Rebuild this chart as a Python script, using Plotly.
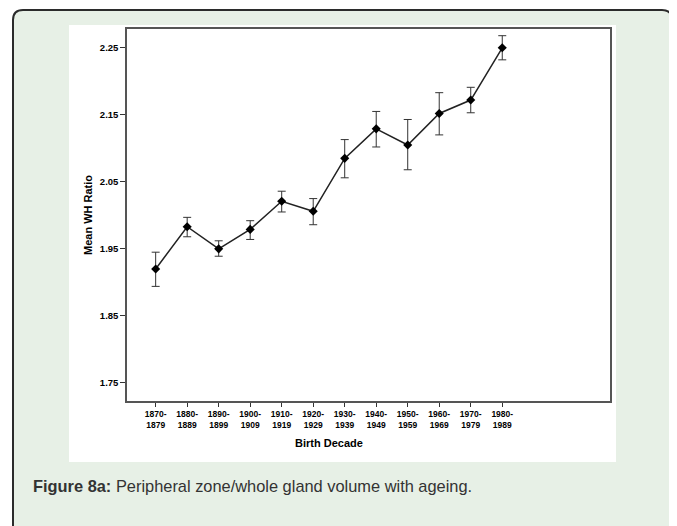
import plotly.graph_objects as go

decades = ["1870-<br>1879", "1880-<br>1889", "1890-<br>1899", "1900-<br>1909",
           "1910-<br>1919", "1920-<br>1929", "1930-<br>1939", "1940-<br>1949",
           "1950-<br>1959", "1960-<br>1969", "1970-<br>1979", "1980-<br>1989"]
mean_wh = [1.920, 1.983, 1.950, 1.979, 2.021, 2.006, 2.085, 2.129, 2.105, 2.152, 2.172, 2.250]
err_upper = [1.945, 1.997, 1.962, 1.992, 2.036, 2.025, 2.113, 2.155, 2.143, 2.183, 2.191, 2.268]
err_lower = [1.894, 1.968, 1.939, 1.964, 2.005, 1.986, 2.056, 2.102, 2.068, 2.120, 2.153, 2.232]
y_ticks = [1.75, 1.85, 1.95, 2.05, 2.15, 2.25]

plus = [u - m for u, m in zip(err_upper, mean_wh)]
minus = [m - l for m, l in zip(mean_wh, err_lower)]

W, H = 677, 526
OFF = 8  # page body margin, positions below are in window pixels
L, R, T, B = 127, 610, 29, 401


def px(x):
    return (x - L) / (R - L)


def py(y):
    return (B - y) / (B - T)


font = "Liberation Sans, Arial, sans-serif"

fig = go.Figure(go.Scatter(
    x=decades, y=mean_wh, mode="lines+markers",
    line=dict(color="#222222", width=1.5),
    marker=dict(symbol="diamond", size=7, color="black"),
    error_y=dict(type="data", symmetric=False, array=plus, arrayminus=minus,
                 color="#333333", thickness=1, width=4),
))

# card background with rounded top corners, then the white figure panel
r = 10
card = (f"M {px(13)},{py(560)} L {px(13)},{py(10 + r)} "
        f"Q {px(13)},{py(10)} {px(13 + r)},{py(10)} "
        f"L {px(672 - r)},{py(10)} Q {px(672)},{py(10)} {px(672)},{py(10 + r)} "
        f"L {px(672)},{py(560)} Z")
fig.add_shape(type="path", path=card, xref="paper", yref="paper", layer="below",
              fillcolor="#e7f0e6", line=dict(color="#2b2b2b", width=2))
fig.add_shape(type="rect", xref="paper", yref="paper", layer="below",
              x0=px(69), x1=px(616), y0=py(462), y1=py(25),
              fillcolor="white", line=dict(width=0))

fig.add_annotation(x=5.5, xref="x", y=py(443), yref="paper", yanchor="middle",
                   text="<b>Birth Decade</b>", showarrow=False,
                   font=dict(family=font, size=11, color="black"))
fig.add_annotation(x=px(88), xref="paper", xanchor="center", y=0.5, yref="paper",
                   yanchor="middle", text="<b>Mean WH Ratio</b>", textangle=-90,
                   showarrow=False, font=dict(family=font, size=11, color="black"))
fig.add_annotation(x=px(31), xref="paper", xanchor="left", y=py(486), yref="paper",
                   yanchor="middle",
                   text="<b>Figure 8a:</b> Peripheral zone/whole gland volume with ageing.",
                   showarrow=False, font=dict(family=font, size=16.4, color="#333333"))

fig.update_xaxes(type="category", range=[-0.91, 14.42], showgrid=False,
                 showline=True, mirror=True, linecolor="#555555", linewidth=1.5,
                 ticks="outside", ticklen=4, tickcolor="#333333",
                 tickfont=dict(family=font, size=8.5, color="black", weight="bold"))
fig.update_yaxes(range=[1.723, 2.278], tickvals=y_ticks, tickformat=".2f", showgrid=False,
                 zeroline=False, showline=True, mirror=True, linecolor="#555555", linewidth=1.5,
                 ticks="outside", ticklen=5, tickcolor="#333333",
                 tickfont=dict(family=font, size=9.5, color="black", weight="bold"))
fig.update_layout(width=W, height=H,
                  margin=dict(l=L - OFF, r=W - R + OFF, t=T - OFF, b=H - B + OFF),
                  paper_bgcolor="white", plot_bgcolor="white", showlegend=False,
                  font=dict(family=font))
fig.write_html("out.html")
